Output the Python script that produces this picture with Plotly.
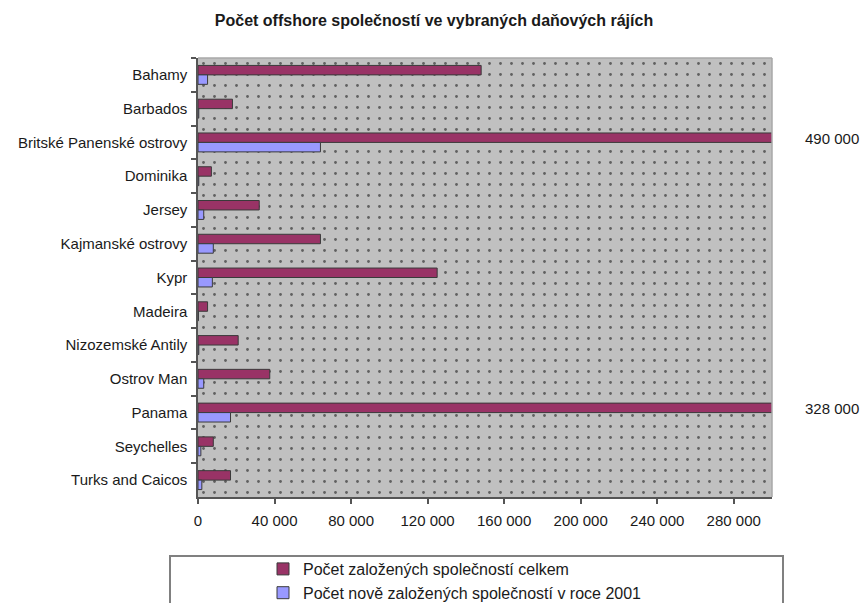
import plotly.graph_objects as go

# ---- data ----
categories = ["Bahamy", "Barbados", "Britské Panenské ostrovy", "Dominika", "Jersey",
              "Kajmanské ostrovy", "Kypr", "Madeira", "Nizozemské Antily", "Ostrov Man",
              "Panama", "Seychelles", "Turks and Caicos"]
total_companies = [148000, 18000, 490000, 7000, 32000, 64000, 125000, 5000, 21000,
                   37500, 328000, 8000, 17000]
new_2001 = [5000, 400, 64000, 400, 3000, 8000, 7500, 200, 400, 3000, 17000, 1500, 2000]
series_names = ["Počet založených společností celkem",
                "Počet nově založených společností v roce 2001"]
title_text = "Počet offshore společností ve vybraných daňových rájích"
x_max = 300000
x_dtick = 40000

# ---- layout geometry (pixels) ----
W, H = 864, 603
L, R, T, B = 198, 772, 58, 497
pw, ph = R - L, B - T


def px_x(p):
    return (p - L) / pw


def px_y(p):
    return (B - p) / ph


FONT = "Liberation Sans, Arial, sans-serif"
TXT = "#1a1a1a"
MAROON = "#993366"
BLUE = "#9999ff"
EDGE = "#3a3a3a"

fig = go.Figure()

# background panel with dotted pattern (on hidden base axis)
fig.add_trace(go.Bar(
    x=[x_max], y=[0.5], width=[1.0], base=0, orientation="h",
    xaxis="x", yaxis="y",
    marker=dict(color="#c0c0c0",
                pattern=dict(shape=".", fgcolor="#606060", bgcolor="#c0c0c0",
                             size=11, solidity=0.05, fillmode="replace"),
                line=dict(width=0)),
    showlegend=False, hoverinfo="skip"))

fig.add_trace(go.Bar(
    y=categories, x=total_companies, orientation="h", name=series_names[0],
    xaxis="x", yaxis="y2", legendgroup="a",
    marker=dict(color=MAROON, line=dict(color=EDGE, width=1))))
fig.add_trace(go.Bar(
    y=categories, x=new_2001, orientation="h", name=series_names[1],
    xaxis="x", yaxis="y2", legendgroup="b",
    marker=dict(color=BLUE, line=dict(color=EDGE, width=1))))

# value labels for bars exceeding the axis
annotations = []
for cat, v in zip(categories, total_companies):
    if v > x_max:
        annotations.append(dict(
            x=px_x(803), xref="paper", xanchor="left",
            y=cat, yref="y2", yanchor="middle", yshift=4,
            text=f"{v:,}".replace(",", " "), showarrow=False,
            font=dict(family=FONT, size=15, color=TXT)))

shapes = [
    # light top and right border of plot area
    dict(type="line", xref="paper", yref="paper", x0=0, x1=1, y0=1, y1=1,
         line=dict(color="#a8a8a8", width=1.5), layer="above"),
    dict(type="line", xref="paper", yref="paper", x0=1, x1=1, y0=0, y1=1,
         line=dict(color="#a8a8a8", width=1.5), layer="above"),
    # legend frame
    dict(type="rect", xref="paper", yref="paper",
         x0=px_x(170), x1=px_x(783), y0=px_y(615), y1=px_y(556),
         line=dict(color="#808080", width=2), fillcolor="rgba(0,0,0,0)", layer="above"),
]

fig.update_layout(
    width=W, height=H,
    margin=dict(l=L, r=W - R, t=T, b=H - B, autoexpand=False),
    paper_bgcolor="white", plot_bgcolor="#c0c0c0",
    separators=", ",
    barmode="group", bargap=0.44, bargroupgap=0,
    title=dict(text=f"<b>{title_text}</b>", x=px_x(434),
               xref="paper", xanchor="center", y=1 - 20 / H, yanchor="middle",
               font=dict(family=FONT, size=16, color=TXT)),
    font=dict(family=FONT, size=15, color=TXT),
    xaxis=dict(range=[0, x_max], dtick=x_dtick, tick0=0, tickformat=",d",
               showgrid=False, zeroline=False,
               showline=True, linecolor="#555555", linewidth=1.5,
               ticks="outside", ticklen=5, tickcolor="#555555", tickwidth=1.5,
               ticklabelstandoff=4,
               tickfont=dict(family=FONT, size=15, color=TXT),
               fixedrange=True),
    yaxis=dict(range=[0, 1], visible=False, fixedrange=True),
    yaxis2=dict(overlaying="y", side="left", type="category",
                categoryorder="array", categoryarray=categories,
                autorange="reversed", showgrid=False, zeroline=False,
                showline=True, linecolor="#555555", linewidth=1.5,
                ticks="outside", ticklen=5, tickcolor="#555555", tickwidth=1.5,
                tickson="boundaries", ticklabelstandoff=6,
                tickfont=dict(family=FONT, size=15, color=TXT),
                fixedrange=True),
    legend=dict(x=px_x(263), y=px_y(552), xanchor="left", yanchor="top",
                xref="paper", yref="paper",
                bgcolor="rgba(0,0,0,0)", borderwidth=0,
                traceorder="grouped", tracegroupgap=0,
                font=dict(family=FONT, size=16, color=TXT)),
    annotations=annotations,
    shapes=shapes,
    showlegend=True,
)

fig.write_html("out.html")
